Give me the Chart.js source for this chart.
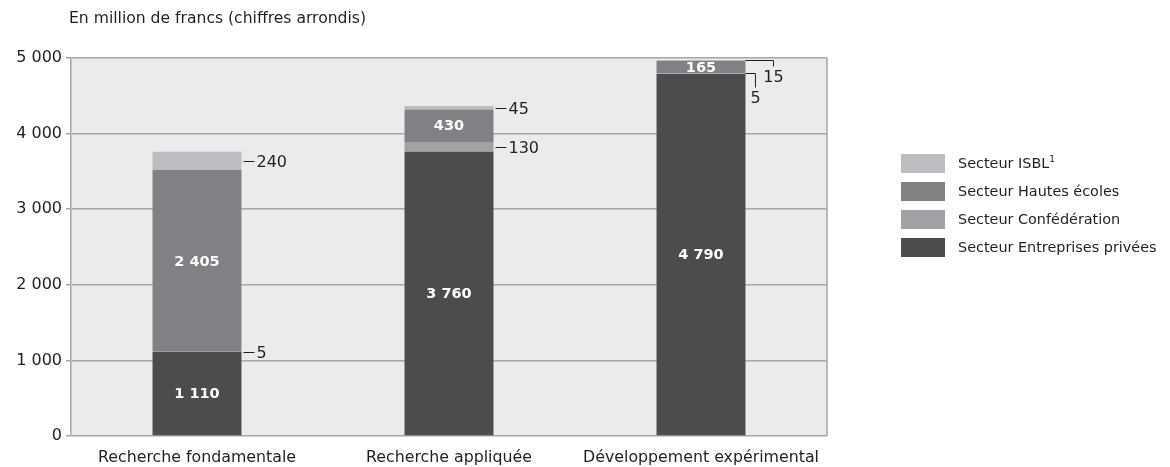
<!DOCTYPE html>
<html lang="fr">
<head>
  <meta charset="UTF-8">
  <title>Dépenses de R-D par type de recherche</title>
  <script src="https://cdn.jsdelivr.net/npm/chart.js"></script>
  <style>
    html, body {
      margin: 0;
      padding: 0;
      background: #ffffff;
      font-family: 'DejaVu Sans', sans-serif;
      color: #231f20;
    }
    .wrap {
      position: relative;
      width: 1170px;
      height: 467px;
    }
    .subtitle {
      position: absolute;
      left: 69px;
      top: 9px;
      font-size: 15.6px;
    }
    .legend {
      position: absolute;
      left: 901px;
      top: 154px;
      font-size: 14.4px;
    }
    .legend div {
      height: 28px;
      display: flex;
      align-items: flex-start;
    }
    .legend span.box {
      display: inline-block;
      width: 44px;
      height: 19px;
      margin-right: 13px;
    }
    .legend span.lbl {
      line-height: 19px;
    }
    .legend sup {
      font-size: 9px;
      vertical-align: 6px;
      line-height: 0;
    }
  </style>
</head>
<body>
  <div class="wrap">
    <div class="subtitle">En million de francs (chiffres arrondis)</div>
    <canvas id="chart" width="1170" height="467"></canvas>
    <div class="legend" id="legend"></div>
  </div>

  <script>
    // données (millions de francs)
    const categories = ['Recherche fondamentale', 'Recherche appliquée', 'Développement expérimental'];
    const entreprises = [1110, 3760, 4790];
    const confederation = [5, 130, 5];
    const hautesEcoles = [2405, 430, 165];
    const isbl = [240, 45, 15];
    const yTicks = [0, 1000, 2000, 3000, 4000, 5000];

    const colors = {
      entreprises: '#4b4c4e',
      confederation: '#a1a2a5',
      hautesEcoles: '#808184',
      isbl: '#bcbdc0'
    };

    const fmt = v => String(v).replace(/\B(?=(\d{3})+(?!\d))/g, ' ');

    // fond gris + cadre de la zone de tracé
    const plotBg = {
      id: 'plotBg',
      beforeDraw(chart) {
        const { ctx, chartArea: a } = chart;
        ctx.save();
        ctx.fillStyle = '#ebebed';
        ctx.fillRect(a.left, a.top, a.right - a.left, a.bottom - a.top);
        ctx.restore();
      },
      afterDatasetsDraw(chart) {
        const { ctx, chartArea: a } = chart;
        ctx.save();
        ctx.strokeStyle = '#a6a6a8';
        ctx.lineWidth = 1.5;
        ctx.beginPath();
        ctx.moveTo(a.right, a.top);
        ctx.lineTo(a.right, a.bottom);
        ctx.stroke();
        ctx.restore();
      }
    };

    // étiquettes des valeurs : Entreprises et Hautes écoles dedans,
    // Confédération et ISBL à côté avec un trait de rappel
    const valueLabels = {
      id: 'valueLabels',
      afterDatasetsDraw(chart) {
        const ctx = chart.ctx;
        ctx.save();
        chart.data.datasets.forEach((ds, i) => {
          const meta = chart.getDatasetMeta(i);
          const outside = i === 1 || i === 3;
          meta.data.forEach((bar, j) => {
            const v = ds.data[j];
            const top = Math.min(bar.y, bar.base);
            const bot = Math.max(bar.y, bar.base);
            const mid = (top + bot) / 2;
            const right = bar.x + bar.width / 2;
            if (!outside) {
              ctx.fillStyle = '#ffffff';
              ctx.font = 'bold 14.5px "DejaVu Sans"';
              ctx.textAlign = 'center';
              ctx.textBaseline = 'middle';
              ctx.fillText(fmt(v), bar.x, mid + 1);
              return;
            }
            ctx.strokeStyle = '#231f20';
            ctx.lineWidth = 1;
            ctx.fillStyle = '#231f20';
            ctx.font = '16px "DejaVu Sans"';
            if (j === 2) {
              // crochets pour les petites parts en haut de la 3e barre
              const reach = i === 3 ? 28 : 10;
              const drop = i === 3 ? 6 : 14;
              const y = Math.round(top) + 0.5;
              ctx.beginPath();
              ctx.moveTo(right, y);
              ctx.lineTo(right + reach, y);
              ctx.lineTo(right + reach, y + drop);
              ctx.stroke();
              ctx.textAlign = 'center';
              ctx.textBaseline = 'middle';
              ctx.fillText(fmt(v), right + reach, y + drop + 11);
            } else {
              const y = Math.round(mid) + 0.5;
              ctx.beginPath();
              ctx.moveTo(right + 2, y);
              ctx.lineTo(right + 13, y);
              ctx.stroke();
              ctx.textAlign = 'left';
              ctx.textBaseline = 'middle';
              ctx.fillText(fmt(v), right + 15, y + 1);
            }
          });
        });
        ctx.restore();
      }
    };

    const chart = new Chart(document.getElementById('chart'), {
      type: 'bar',
      data: {
        labels: categories,
        datasets: [
          { label: 'Secteur Entreprises privées', data: entreprises, backgroundColor: colors.entreprises },
          { label: 'Secteur Confédération', data: confederation, backgroundColor: colors.confederation },
          { label: 'Secteur Hautes écoles', data: hautesEcoles, backgroundColor: colors.hautesEcoles },
          { label: 'Secteur ISBL', data: isbl, backgroundColor: colors.isbl }
        ]
      },
      options: {
        responsive: false,
        animation: false,
        layout: { padding: { left: 0, right: 343, top: 58, bottom: 0 } },
        datasets: {
          bar: { barPercentage: 0.353, categoryPercentage: 1, borderWidth: 0 }
        },
        plugins: {
          legend: { display: false },
          tooltip: { enabled: false }
        },
        scales: {
          x: {
            stacked: true,
            grid: { display: false },
            border: { display: false },
            ticks: {
              color: '#231f20',
              font: { family: 'DejaVu Sans', size: 15.8 },
              padding: 4,
              maxRotation: 0
            },
            afterFit(scale) { scale.height = 31; }
          },
          y: {
            stacked: true,
            min: 0,
            max: 5000,
            afterBuildTicks(scale) { scale.ticks = yTicks.map(v => ({ value: v })); },
            grid: { color: '#a6a6a8', lineWidth: 1.5, tickLength: 5 },
            border: { color: '#a6a6a8', width: 1.5 },
            ticks: {
              color: '#231f20',
              font: { family: 'DejaVu Sans', size: 16 },
              padding: 4,
              callback: v => fmt(v)
            },
            afterFit(scale) { scale.width = 71; }
          }
        }
      },
      plugins: [plotBg, valueLabels]
    });

    // légende (ordre inversé, comme l'empilement)
    const legendEl = document.getElementById('legend');
    chart.data.datasets.slice().reverse().forEach(ds => {
      const row = document.createElement('div');
      const note = ds.label === 'Secteur ISBL' ? '<sup>1</sup>' : '';
      row.innerHTML = '<span class="box" style="background:' + ds.backgroundColor + '"></span>' +
        '<span class="lbl">' + ds.label + note + '</span>';
      legendEl.appendChild(row);
    });
  </script>
</body>
</html>
